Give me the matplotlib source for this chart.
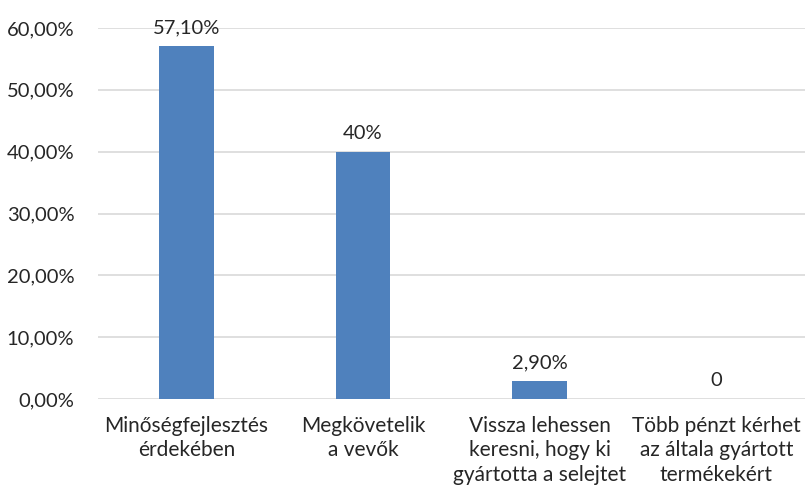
import matplotlib.pyplot as plt
import numpy as np

plt.rcParams['font.family'] = ['Lato', 'DejaVu Sans']

# Data
categories = ["Minőségfejlesztés\nérdekében", "Megkövetelik\na vevők",
              "Vissza lehessen\nkeresni, hogy ki\ngyártotta a selejtet",
              "Több pénzt kérhet\naz általa gyártott\ntermékekért"]
values = [0.571, 0.40, 0.029, 0.0]
value_labels = ["57,10%", "40%", "2,90%", "0"]
yticks = [0.0, 0.1, 0.2, 0.3, 0.4, 0.5, 0.6]
ytick_labels = ["0,00%", "10,00%", "20,00%", "30,00%", "40,00%", "50,00%", "60,00%"]

fig = plt.figure(figsize=(8.05, 4.94), dpi=100)
ax = fig.add_axes([0.1217, 0.1923, 0.878, 0.7510])

x = np.arange(len(categories))
bars = ax.bar(x, values, width=0.31, color='#4f81bd', zorder=3)

for xi, v, lab in zip(x, values, value_labels):
    ax.annotate(lab, (xi, v), xytext=(0, 7), textcoords='offset points',
                ha='center', va='bottom', fontsize=14.5, color='#262626')

ax.set_xlim(-0.5, len(categories) - 0.5)
ax.set_ylim(0, 0.6)
ax.set_yticks(yticks)
ax.set_yticklabels(ytick_labels, fontsize=14.5, color='#262626')
ax.set_xticks(x)
ax.set_xticklabels(categories, fontsize=15, color='#262626', linespacing=1.3)

ax.grid(axis='y', color='#d9d9d9', linewidth=1.2, zorder=0)
for s in ax.spines.values():
    s.set_visible(False)
ax.tick_params(axis='both', length=0)
ax.tick_params(axis='x', pad=12)
ax.tick_params(axis='y', pad=17)

fig.savefig('out.png', dpi=100)
